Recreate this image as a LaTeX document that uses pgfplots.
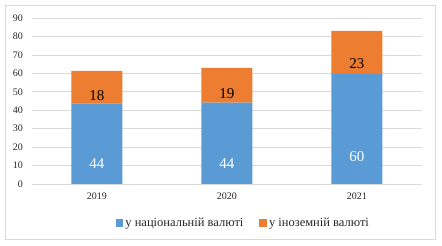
\documentclass[border=0pt]{standalone}
\usepackage{fontspec}
\setmainfont{Liberation Serif}
\usepackage{pgfplots}
\pgfplotsset{compat=1.18}
\definecolor{cblue}{HTML}{5B9BD5}
\definecolor{corange}{HTML}{ED7D31}
\definecolor{gridc}{HTML}{D9D9D9}
\definecolor{txt}{HTML}{262626}
\begin{document}
\begin{tikzpicture}
\path[use as bounding box] (-32pt,-62pt) rectangle (410pt,184pt);
\draw[gridc, line width=0.8pt] (-27pt,-55.5pt) rectangle (403.5pt,179pt);
\begin{axis}[
  at={(0,0)}, anchor=south west,
  scale only axis,
  width=390pt,
  y=1.8444pt,
  ymin=0, ymax=90,
  xmin=-0.5, xmax=2.5,
  ybar stacked,
  bar width=51pt,
  xtick={0,1,2},
  xticklabels={2019,2020,2021},
  ytick={0,10,...,90},
  ymajorgrids,
  grid style={gridc, line width=0.6pt},
  axis x line*=bottom,
  axis y line*=left,
  x axis line style={draw=gridc, line width=0.6pt},
  y axis line style={draw=none},
  major tick length=0pt,
  tick style={draw=none},
  /pgf/number format/assume math mode=true,
  tick label style={font=\fontsize{10}{12}\selectfont, text=txt},
  yticklabel style={anchor=east, inner sep=0pt, xshift=-9pt},
  xticklabel style={anchor=north, inner sep=0pt, yshift=-9pt},
  visualization depends on=rawy \as \rawy,
  nodes near coords={\pgfmathprintnumber[fixed,precision=0]{\rawy}},
  every node near coord/.append style={anchor=center, yshift=-0.4611*\rawy pt, font=\fontsize{15}{18}\selectfont},
  legend columns=2,
  legend style={at={(0.542,-0.235)}, anchor=center, draw=none, fill=none,
    font=\fontsize{12.5}{14}\selectfont, text=txt,
    /tikz/every even column/.append style={column sep=14pt}},
  legend image code/.code={\fill[#1] (0pt,-3.8pt) rectangle (7.6pt,3.8pt);},
]
\addplot[fill=cblue, draw=none, every node near coord/.append style={text=white}]
  coordinates {(0,43.6) (1,44.1) (2,59.6)};
\addlegendentry{у національній валюті}
\addplot[fill=corange, draw=none, every node near coord/.append style={text=black}]
  coordinates {(0,17.8) (1,18.9) (2,23.4)};
\addlegendentry{у іноземній валюті}
\end{axis}
\end{tikzpicture}
\end{document}
